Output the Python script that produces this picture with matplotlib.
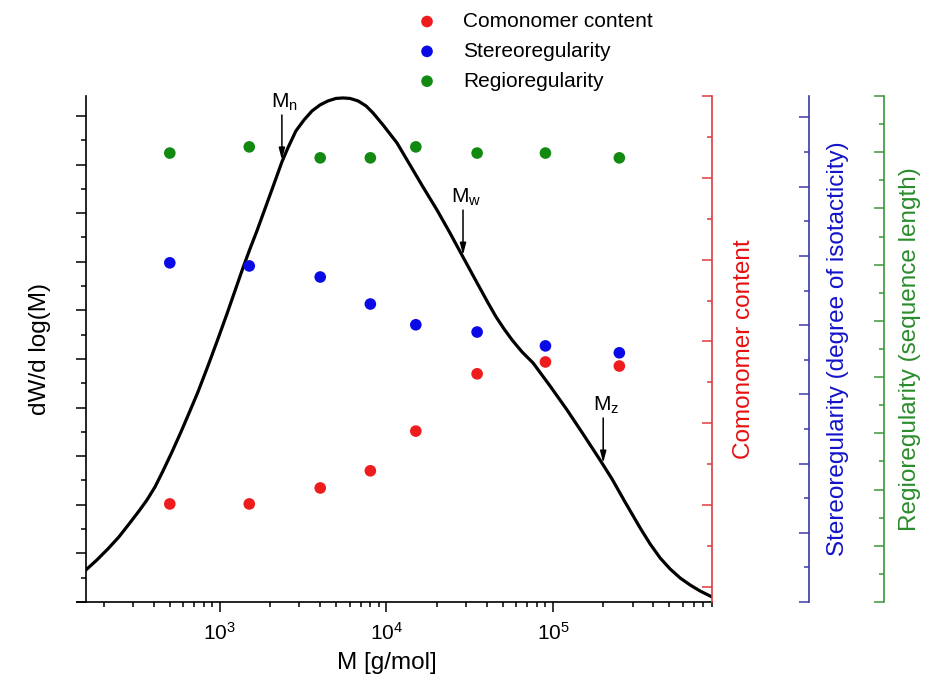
import numpy as np
import matplotlib
matplotlib.use('Agg')
import matplotlib.pyplot as plt
from matplotlib.ticker import MultipleLocator, LogLocator, NullFormatter

plt.rcParams['font.family'] = ['Liberation Sans', 'DejaVu Sans']
plt.rcParams['mathtext.fontset'] = 'custom'
plt.rcParams['mathtext.rm'] = 'Liberation Sans'
plt.rcParams['mathtext.it'] = 'Liberation Sans:italic'
plt.rcParams['mathtext.bf'] = 'Liberation Sans:bold'

# ---- data ----
# molar-mass distribution: log10(M) and dW/dlog(M)
logM_curve = [2.195, 2.261, 2.327, 2.393, 2.459, 2.514, 2.562, 2.610, 2.658, 2.712,
              2.766, 2.820, 2.868, 2.928, 2.988, 3.042, 3.090, 3.138, 3.180, 3.222,
              3.270, 3.318, 3.372, 3.408, 3.456, 3.505, 3.553, 3.601, 3.649, 3.697,
              3.739, 3.781, 3.829, 3.877, 3.919, 3.979, 4.063, 4.141, 4.219, 4.303,
              4.381, 4.459, 4.544, 4.610, 4.658, 4.706, 4.754, 4.814, 4.880, 4.982,
              5.084, 5.180, 5.282, 5.354, 5.432, 5.523, 5.583, 5.643, 5.703, 5.763,
              5.823, 5.883, 5.955]
w_curve = [0.658, 0.864, 1.091, 1.337, 1.626, 1.872, 2.099, 2.366, 2.695, 3.086,
           3.498, 3.930, 4.321, 4.856, 5.412, 5.926, 6.399, 6.872, 7.263, 7.634,
           8.086, 8.539, 9.053, 9.342, 9.691, 9.918, 10.103, 10.226, 10.309, 10.360,
           10.370, 10.360, 10.309, 10.206, 10.062, 9.815, 9.444, 8.992, 8.539, 8.066,
           7.593, 7.099, 6.564, 6.152, 5.864, 5.617, 5.391, 5.144, 4.918, 4.444,
           3.951, 3.457, 2.922, 2.531, 2.058, 1.523, 1.193, 0.905, 0.679, 0.494,
           0.350, 0.226, 0.103]
M_curve = 10 ** np.array(logM_curve)

M_pts = [500, 1500, 4000, 8000, 15000, 35000, 90000, 250000]
comonomer = [2.03, 2.03, 2.42, 2.84, 3.81, 5.21, 5.50, 5.40]
stereo = [9.80, 9.71, 9.39, 8.61, 8.01, 7.80, 7.40, 7.20]
regio = [15.97, 16.19, 15.80, 15.80, 16.19, 15.97, 15.97, 15.80]

avg_names = ['n', 'w', 'z']
avg_M = [2355, 28800, 200000]

legend_labels = ['Comonomer content', 'Stereoregularity', 'Regioregularity']
xlabel = 'M [g/mol]'
ylabel = 'dW/d log(M)'
red_label = 'Comonomer content'
blue_label = 'Stereoregularity (degree of isotacticity)'
green_label = 'Regioregularity (sequence length)'

# ---- styles ----
c_red_pt, c_blue_pt, c_green_pt = '#ee1c1c', '#0a0ae6', '#128a12'
c_red_ax, c_blue_ax, c_green_ax = '#e03a3a', '#3a3aa8', '#3a963a'
c_red_lab, c_blue_lab, c_green_lab = '#e61010', '#1414c8', '#2a8c2a'

W, H = 934, 681
fig = plt.figure(figsize=(W / 100, H / 100), dpi=100)
ax = fig.add_axes([86 / W, 1 - 602 / H, 626 / W, 506 / H])

ax.plot(M_curve, w_curve, color='k', lw=2.3, zorder=3, solid_joinstyle='round')
ax.set_xscale('log')
ax.set_xlim(157, 9.0e5)
ax.set_ylim(0, 10.41)
ax.yaxis.set_major_locator(MultipleLocator(1))
ax.yaxis.set_minor_locator(MultipleLocator(0.5))
ax.yaxis.set_major_formatter(NullFormatter())
ax.xaxis.set_major_locator(LogLocator(base=10, numticks=20))
ax.xaxis.set_minor_locator(LogLocator(base=10, subs=np.arange(2, 10), numticks=20))
ax.xaxis.set_minor_formatter(NullFormatter())
ax.tick_params(which='major', direction='out', length=7, width=1.1, labelsize=15, pad=7)
ax.tick_params(which='minor', direction='out', length=3.5, width=1.1)
for s in ['top', 'right']:
    ax.spines[s].set_visible(False)
for s in ['left', 'bottom']:
    ax.spines[s].set_linewidth(1.2)
ax.spines['bottom'].set_bounds(138, 9.0e5)

ax.set_xlabel(xlabel, fontsize=17.5)
ax.xaxis.set_label_coords(0.48, -0.1206)
ax.xaxis.label.set_va('center')
ax.set_ylabel(ylabel, fontsize=17.5)
ax.yaxis.set_label_coords(-0.0735, 0.5)
ax.yaxis.label.set_va('center')

# arrows for averages
px = 10.41 / 506  # data units per pixel on left axis
for name, m in zip(avg_names, avg_M):
    tip = np.interp(np.log10(m), logM_curve, w_curve) + 2 * px
    start = tip + 45 * px
    ax.annotate('', xy=(m, tip), xytext=(m, start),
                arrowprops=dict(arrowstyle='-|>,head_length=0.7,head_width=0.18',
                                color='k', lw=1.1, shrinkA=0, shrinkB=0),
                annotation_clip=False)
    ax.text(m * 1.04, start + 2 * px, 'M$_{\\mathrm{%s}}$' % name, fontsize=15,
            ha='center', va='bottom', clip_on=False)

def twin(pos, ylim, col, label, labx, labcol):
    t = ax.twinx()
    t.set_ylim(*ylim)
    for s in ['top', 'bottom', 'left']:
        t.spines[s].set_visible(False)
    t.spines['right'].set_position(('axes', pos))
    t.spines['right'].set_color(col)
    t.spines['right'].set_linewidth(1.2)
    t.yaxis.set_major_locator(MultipleLocator(2))
    t.yaxis.set_minor_locator(MultipleLocator(1))
    t.yaxis.set_major_formatter(NullFormatter())
    t.tick_params(axis='y', which='major', direction='in', length=7, width=1.1, colors=col)
    t.tick_params(axis='y', which='minor', direction='in', length=3.5, width=1.1, colors=col)
    t.set_ylabel(label, fontsize=17.5, color=labcol)
    t.yaxis.set_label_coords(labx, 0.5)
    t.yaxis.label.set_va('center')
    return t

axr = twin(1.0, (-0.367, 12.0), c_red_ax, red_label, (744 - 86) / 626, c_red_lab)
axb = twin((809 - 86) / 626, (0, 14.62), c_blue_ax, blue_label, (838 - 86) / 626, c_blue_lab)
axg = twin((884 - 86) / 626, (0, 18.0), c_green_ax, green_label, (910 - 86) / 626, c_green_lab)

sr = axr.scatter(M_pts, comonomer, s=70, color=c_red_pt, edgecolors='none', zorder=4)
sb = axb.scatter(M_pts, stereo, s=70, color=c_blue_pt, edgecolors='none', zorder=4)
sg = axg.scatter(M_pts, regio, s=70, color=c_green_pt, edgecolors='none', zorder=4)

fig.legend([sr, sb, sg], legend_labels, loc='upper left',
           bbox_to_anchor=(416.6 / W, 1 - 12 / H), frameon=False, fontsize=15,
           handlelength=1.0, handletextpad=1.23, labelspacing=0.52,
           borderpad=0, borderaxespad=0, scatterpoints=1)

fig.savefig('out.png', dpi=100)
